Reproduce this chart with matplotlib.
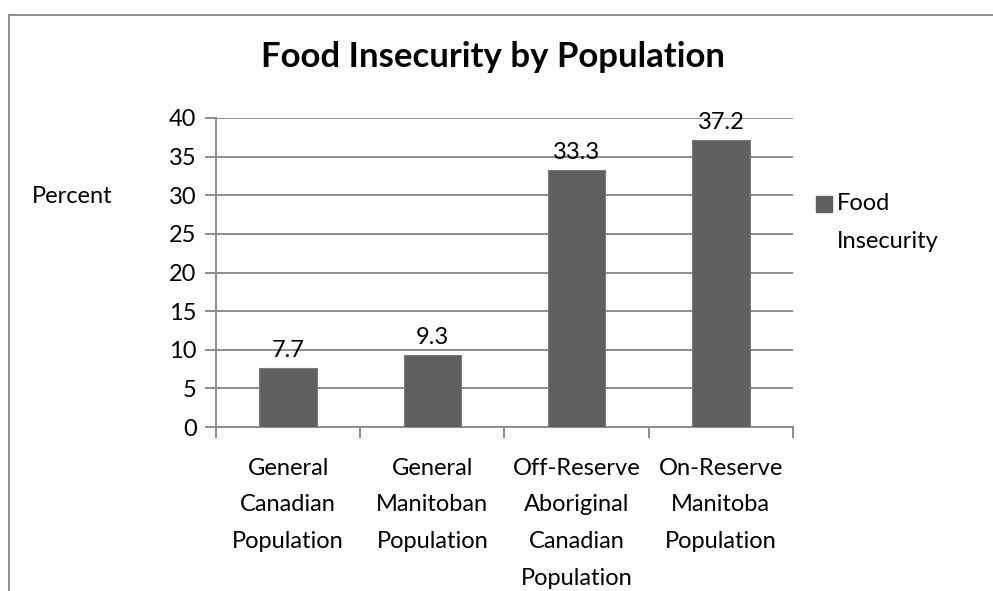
import matplotlib.pyplot as plt
from matplotlib.lines import Line2D

# data
categories = ['General\nCanadian\nPopulation', 'General\nManitoban\nPopulation',
              'Off-Reserve\nAboriginal\nCanadian\nPopulation', 'On-Reserve\nManitoba\nPopulation']
values = [7.7, 9.3, 33.3, 37.2]
series_name = 'Food\nInsecurity'
yticks = [0, 5, 10, 15, 20, 25, 30, 35, 40]

plt.rcParams['font.family'] = ['Lato', 'DejaVu Sans']
grid_col = '#8c8c8c'
bar_col = '#606060'
fs = 17

fig = plt.figure(figsize=(9.93, 5.91), dpi=100)
ax = fig.add_axes([216 / 993, 1 - 427 / 591, 577 / 993, 309 / 591])

x = list(range(len(values)))
bars = ax.bar(x, values, width=0.4, color=bar_col, edgecolor='#7a7a7a', linewidth=0.8,
              zorder=3, label=series_name)

ax.set_xlim(-0.5, len(values) - 0.5)
ax.set_ylim(0, 40)
ax.set_yticks(yticks)
ax.yaxis.grid(True, color=grid_col, linewidth=1.4, zorder=0)
ax.set_axisbelow(True)

for s in ['top', 'right']:
    ax.spines[s].set_visible(False)
for s in ['left', 'bottom']:
    ax.spines[s].set_color(grid_col)
    ax.spines[s].set_linewidth(1.4)

ax.tick_params(axis='y', length=8, width=1.4, color=grid_col, labelsize=fs, pad=6)
ax.set_xticks([i - 0.5 for i in range(len(values) + 1)], minor=False)
ax.set_xticklabels([])
ax.tick_params(axis='x', which='major', length=8, width=1.4, color=grid_col)
ax.set_xticks(x, minor=True)
ax.set_xticklabels(categories, minor=True, fontsize=fs, linespacing=1.93)
ax.tick_params(axis='x', which='minor', length=0, pad=22)

for b, v in zip(bars, values):
    ax.text(b.get_x() + b.get_width() / 2, v + 0.9, f'{v}', ha='center', va='bottom',
            fontsize=fs)

fig.text(493 / 993, 1 - 57 / 591, 'Food Insecurity by Population', ha='center', va='center',
         fontsize=25, fontweight='bold')
fig.text(72 / 993, 1 - 197 / 591, 'Percent', ha='center', va='center', fontsize=fs)

# legend
fig.patches.append(plt.Rectangle((816 / 993, 1 - 212 / 591), 16 / 993, 16 / 591,
                                 transform=fig.transFigure, color=bar_col))
fig.text(837 / 993, 1 - 203 / 591, 'Food', ha='left', va='center', fontsize=fs)
fig.text(837 / 993, 1 - 242 / 591, 'Insecurity', ha='left', va='center', fontsize=fs)

# chart area border (extends past right and bottom edges)
fig.add_artist(Line2D([9 / 993, 1.0], [1 - 15 / 591, 1 - 15 / 591], color=grid_col,
                      linewidth=1.4, transform=fig.transFigure))
fig.add_artist(Line2D([9 / 993, 9 / 993], [0, 1 - 15 / 591], color=grid_col,
                      linewidth=1.4, transform=fig.transFigure))

fig.savefig('out.png', dpi=100)
